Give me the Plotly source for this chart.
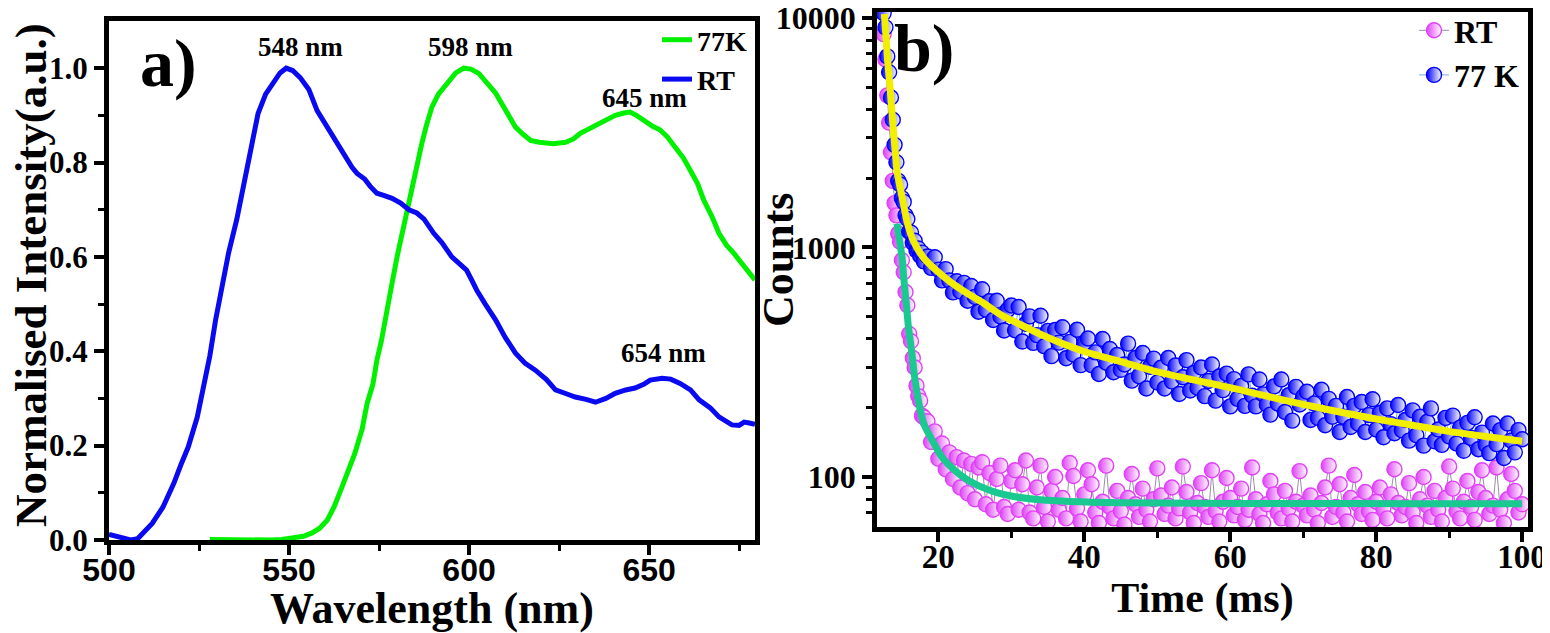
import plotly.graph_objects as go

# ---------------- panel a) data ----------------
WL_RT = [500, 502, 504, 506, 508, 509.5, 512, 515, 518, 520, 522, 524.5, 526.3, 528, 529.6, 531.5, 533.2,
         535.5, 537.3, 539.5, 541.4, 543.5, 545.6, 547.5, 549.2, 551, 553.1, 555.5, 557.8, 559.8, 561.4,
         563.5, 565.6, 567.5, 568.9, 571, 572.5, 574.4, 576.5, 578.6, 581, 583.3, 585.5, 587.5, 590.2,
         592.5, 595.2, 597.5, 599.3, 600.8, 602.1, 604.5, 607.4, 610, 612.9, 615.5, 618.4, 621.5, 624,
         627, 629.5, 632.5, 635.1, 638, 640.6, 643.5, 646.1, 648.5, 650.3, 653.6, 656, 658.6, 661.5,
         663.9, 667, 669.4, 671.5, 673, 675, 676.4, 677.8, 679.4]
INT_RT = [0.012, 0.008, 0.002, 0.0, 0.003, 0.015, 0.035, 0.07, 0.12, 0.16, 0.197, 0.26, 0.324, 0.39, 0.466,
          0.54, 0.608, 0.68, 0.748, 0.83, 0.904, 0.945, 0.968, 0.99, 1.0, 0.995, 0.98, 0.955, 0.91, 0.885,
          0.862, 0.84, 0.811, 0.79, 0.777, 0.765, 0.75, 0.735, 0.73, 0.724, 0.714, 0.70, 0.693, 0.68, 0.65,
          0.63, 0.60, 0.585, 0.572, 0.55, 0.53, 0.50, 0.466, 0.43, 0.396, 0.375, 0.36, 0.34, 0.318, 0.31,
          0.303, 0.298, 0.292, 0.30, 0.311, 0.318, 0.322, 0.33, 0.339, 0.343, 0.341, 0.332, 0.318, 0.297,
          0.28, 0.261, 0.25, 0.244, 0.243, 0.25, 0.248, 0.245]

WL_77K = [528, 535, 545, 548, 551.1, 554, 556.4, 558.5, 560.6, 562.5, 564.7, 566.5, 568.3, 570.3, 571.7,
          573.3, 574.4, 575.6, 576.6, 578.6, 580, 581.4, 582.8, 584.1, 585.5, 586.9, 588.2, 589.7, 591.5,
          593.8, 596.3, 598.5, 600.5, 602.7, 605, 607.4, 608.7, 610.1, 611.8, 612.9, 615, 617.1, 619.5,
          621.2, 623.5, 626.8, 629, 630.9, 633, 635.1, 638, 640.6, 643, 644.7, 646.5, 648.9, 651, 653.1,
          655, 657.2, 659.5, 661.4, 663.5, 665.2, 667.5, 669.4, 671.5, 673.5, 675.5, 677.7, 679.4]
INT_77K = [0.001, 0.0, 0.0, 0.001, 0.004, 0.008, 0.015, 0.025, 0.042, 0.07, 0.112, 0.145, 0.184, 0.235,
           0.29, 0.33, 0.381, 0.42, 0.466, 0.544, 0.6, 0.65, 0.70, 0.742, 0.79, 0.841, 0.88, 0.918, 0.945,
           0.968, 0.99, 1.0, 0.998, 0.989, 0.97, 0.947, 0.93, 0.911, 0.893, 0.875, 0.86, 0.847, 0.843,
           0.841, 0.84, 0.843, 0.85, 0.862, 0.87, 0.879, 0.89, 0.90, 0.905, 0.907, 0.90, 0.886, 0.877,
           0.869, 0.855, 0.833, 0.81, 0.784, 0.755, 0.72, 0.685, 0.65, 0.625, 0.608, 0.588, 0.566, 0.551]

PEAK_LABELS = ["548 nm", "598 nm", "645 nm", "654 nm"]
PEAK_LABEL_X = [553.2, 600.4, 648.8, 654.0]
PEAK_LABEL_Y = [1.045, 1.045, 0.936, 0.396]

# ---------------- panel b) data ----------------
TIME_MS = [12.5, 12.75, 13.0, 13.25, 13.5, 13.75, 14.0, 14.25, 14.5, 14.75, 15.0, 15.25, 15.5, 15.75,
           16.0, 16.25, 16.5, 16.75, 17.0, 17.25, 17.5, 17.75, 18.0,
           18.5, 19.0, 19.5, 20.0, 20.5, 21.0, 21.5, 22.0, 22.5, 23.0, 23.5, 24.0, 24.5, 25.0, 25.5, 26.0,
           26.5, 27.0, 27.5, 28.0, 28.5, 29.0, 29.5, 30.0,
           30.5, 31.0, 31.5, 32.0, 32.5, 33.0, 33.5, 34.0, 34.5, 35.0,
           35.5, 36.0, 36.5, 37.0, 37.5, 38.0, 38.5, 39.0, 39.5, 40.0,
           40.5, 41.0, 41.5, 42.0, 42.5, 43.0, 43.5, 44.0, 44.5, 45.0,
           45.5, 46.0, 46.5, 47.0, 47.5, 48.0, 48.5, 49.0, 49.5, 50.0,
           50.5, 51.0, 51.5, 52.0, 52.5, 53.0, 53.5, 54.0, 54.5, 55.0,
           55.5, 56.0, 56.5, 57.0, 57.5, 58.0, 58.5, 59.0, 59.5, 60.0,
           60.5, 61.0, 61.5, 62.0, 62.5, 63.0, 63.5, 64.0, 64.5, 65.0,
           65.5, 66.0, 66.5, 67.0, 67.5, 68.0, 68.5, 69.0, 69.5, 70.0,
           70.5, 71.0, 71.5, 72.0, 72.5, 73.0, 73.5, 74.0, 74.5, 75.0,
           75.5, 76.0, 76.5, 77.0, 77.5, 78.0, 78.5, 79.0, 79.5, 80.0,
           80.5, 81.0, 81.5, 82.0, 82.5, 83.0, 83.5, 84.0, 84.5, 85.0,
           85.5, 86.0, 86.5, 87.0, 87.5, 88.0, 88.5, 89.0, 89.5, 90.0,
           90.5, 91.0, 91.5, 92.0, 92.5, 93.0, 93.5, 94.0, 94.5, 95.0,
           95.5, 96.0, 96.5, 97.0, 97.5, 98.0, 98.5, 99.0, 99.5, 100.0]

COUNTS_77K = [10500, 9100, 6800, 5800, 4500, 3600, 2800, 2350, 1950, 1880, 1640, 1580, 1380, 1330, 1170,
              1160, 1050, 1070, 970, 990, 920, 950, 870,
              914, 815, 907, 801, 719, 805, 718, 637, 712, 643, 701, 586, 679, 609, 525, 658, 535, 583,
              483, 586, 500, 435, 535, 559,
              436, 550, 389, 465, 501, 384, 415, 504, 371, 433,
              336, 437, 385, 449, 329, 388, 342, 438, 307, 384,
              401, 307, 349, 281, 399, 315, 361, 286, 340, 293,
              309, 381, 263, 330, 275, 347, 243, 302, 328, 258,
              299, 243, 330, 261, 306, 230, 272, 323, 238, 284,
              245, 300, 225, 262, 309, 215, 274, 239, 282, 203,
              267, 219, 249, 204, 280, 226, 203, 266, 229, 207,
              187, 248, 209, 266, 192, 227, 176, 247, 207, 224,
              235, 177, 209, 181, 240, 168, 219, 183, 204, 157,
              183, 223, 165, 204, 171, 212, 157, 186, 218, 161,
              190, 149, 199, 170, 155, 206, 160, 177, 144, 195,
              152, 183, 137, 174, 199, 143, 161, 138, 181, 150,
              185, 140, 164, 130, 172, 148, 182, 132, 156, 138,
              127, 171, 139, 160, 121, 171, 144, 128, 160, 146]

COUNTS_RT = [8500, 6600, 4600, 3500, 2600, 1950, 1560, 1380, 1150, 1060, 880, 780, 640, 560, 420, 390, 330,
             300, 250, 225, 215, 185, 182,
             175, 142, 158, 120, 140, 108, 128, 98, 122, 90, 118, 85, 114, 80, 110, 116, 76, 104, 72, 98,
             112, 74, 69, 96,
             107, 72, 93, 118, 70, 66, 90, 112, 74, 64,
             87, 100, 72, 81, 66, 115, 101, 73, 64, 84,
             107, 93, 70, 63, 78, 112, 74, 66, 87, 71,
             62, 81, 103, 76, 67, 89, 72, 64, 80, 109,
             83, 69, 75, 90, 66, 73, 111, 86, 70, 63,
             77, 94, 74, 67, 107, 71, 64, 78, 99, 81,
             68, 74, 89, 65, 72, 110, 80, 69, 63, 76,
             96, 84, 70, 66, 87, 73, 64, 78, 106, 75,
             68, 83, 72, 63, 77, 90, 112, 67, 74, 93,
             70, 64, 81, 102, 76, 69, 86, 71, 65, 78,
             90, 73, 66, 84, 108, 77, 68, 74, 94, 70,
             63, 80, 100, 75, 67, 87, 72, 64, 81, 111,
             89, 71, 66, 78, 96, 74, 65, 86, 107, 81,
             69, 75, 110, 72, 63, 80, 103, 87, 70, 76]

FIT_77K_T = [12.6, 12.8, 13.05, 13.4, 13.75, 14.1, 14.35, 14.8, 15.25, 15.7, 16.6, 18.0, 19.8, 22.1, 24,
             26, 28.5, 30, 35, 40, 45, 50, 55, 60, 65, 70, 75, 80, 85, 90, 95, 100]
FIT_77K = [10400, 8500, 6500, 4900, 3500, 2600, 2130, 1800, 1530, 1300, 1065, 900, 790, 690, 630, 577,
           510, 482, 405, 352, 318, 287, 265, 245, 225, 207, 192, 179, 168, 158, 150, 143]

FIT_RT_T = [14.34, 14.7, 15.03, 15.25, 15.6, 15.9, 16.4, 16.7, 17.3, 18.0, 19.4, 20.5, 22.2,
            24, 25.7, 28, 30.5, 34, 38, 45, 55, 70, 85, 100]
FIT_RT = [1270, 1060, 900, 740, 570, 450, 340, 280, 212, 171, 140, 122, 107, 97, 91, 85.5,
          82, 79.5, 78.2, 77.2, 76.8, 76.6, 76.5, 76.5]

LOG_TICKS = [100, 1000, 10000]
LOG_MINOR = [m * d for d in (10, 100, 1000) for m in range(2, 10)]

SERIF = "Liberation Serif"
SANS = "Liberation Sans"
BLUE = "#0A0AF0"
GREEN = "#00F000"
MAGENTA = "#E040F8"
BLUE_PT = "#0000FF"

fig = go.Figure()

# ---- panel a ----
fig.add_trace(go.Scatter(x=WL_77K, y=INT_77K, mode="lines", name="77K",
                         line=dict(color=GREEN, width=5), xaxis="x", yaxis="y", legend="legend"))
fig.add_trace(go.Scatter(x=WL_RT, y=INT_RT, mode="lines", name="RT",
                         line=dict(color=BLUE, width=5), xaxis="x", yaxis="y", legend="legend"))


# ---- panel b ----
def half_marker(color, size):
    return dict(symbol="circle", size=size, color=color, line=dict(color=color, width=1.4),
                gradient=dict(type="horizontal", color="white"))


fig.add_trace(go.Scatter(x=TIME_MS, y=COUNTS_RT, mode="lines+markers", name="RT",
                         line=dict(color="#9C8CAC", width=1), marker=half_marker(MAGENTA, 15),
                         xaxis="x2", yaxis="y2", legend="legend2"))
fig.add_trace(go.Scatter(x=FIT_RT_T, y=FIT_RT, mode="lines", showlegend=False,
                         line=dict(color="#19C98F", width=7, shape="spline", smoothing=0.8),
                         xaxis="x2", yaxis="y2"))
fig.add_trace(go.Scatter(x=TIME_MS, y=COUNTS_77K, mode="lines+markers", name="77 K",
                         line=dict(color="#7BAFD8", width=1), marker=half_marker(BLUE_PT, 15),
                         xaxis="x2", yaxis="y2", legend="legend2"))
fig.add_trace(go.Scatter(x=FIT_77K_T, y=FIT_77K, mode="lines", showlegend=False,
                         line=dict(color="#F2EE00", width=7, shape="spline", smoothing=0.8),
                         xaxis="x2", yaxis="y2"))

axis_common = dict(showline=True, linecolor="black", linewidth=5, mirror=True, automargin=False,
                   showgrid=False, zeroline=False, ticks="outside", tickcolor="black",
                   ticklen=10, tickwidth=4)


def minor_ticks(vals):
    return dict(tickvals=vals, ticks="outside", ticklen=6, tickwidth=3, tickcolor="black")


def bold(family, size):
    return dict(family=family, size=size, color="black", weight="bold")


annotations = []
for txt, ax_, ay_ in zip(PEAK_LABELS, PEAK_LABEL_X, PEAK_LABEL_Y):
    annotations.append(dict(x=ax_, y=ay_, xref="x", yref="y", text=txt, showarrow=False,
                            font=bold(SERIF, 27)))
annotations.append(dict(x=516.4, y=1.011, xref="x", yref="y", text="a)", showarrow=False,
                        font=bold(SERIF, 68)))
annotations.append(dict(x=0.594, y=1.0, xref="paper", yref="paper", xanchor="center", yanchor="top",
                        text="b)", showarrow=False, font=bold(SERIF, 68)))
annotations.append(dict(x=0.4994, y=0.5968, xref="paper", yref="paper", xanchor="center",
                        yanchor="middle", text="Counts", textangle=-90, showarrow=False,
                        font=bold(SERIF, 44)))
annotations.append(dict(x=0.0149, y=0.5728, xref="paper", yref="paper", xanchor="center",
                        yanchor="middle", text="Normalised Intensity(a.u.)", textangle=-90,
                        showarrow=False, font=bold(SERIF, 45)))

W, H = 1542, 625
fig.update_layout(
    width=W, height=H,
    margin=dict(l=0, r=0, t=0, b=0, autoexpand=False),
    paper_bgcolor="white", plot_bgcolor="white",
    xaxis=dict(domain=[0.0655, 0.4844], range=[500, 679.4], tickvals=[500, 550, 600, 650],
               tickfont=bold(SANS, 32), ticklabelstandoff=-12,
               minor=minor_ticks([525, 575, 625, 675]),
               title=dict(text="Wavelength (nm)", standoff=8, font=bold(SERIF, 44)),
               anchor="y", **axis_common),
    yaxis=dict(domain=[0.1488, 0.9792], range=[0, 1.1], tickvals=[0, 0.2, 0.4, 0.6, 0.8, 1.0],
               ticktext=["0.0", "0.2", "0.4", "0.6", "0.8", "1.0"],
               tickfont=bold(SERIF, 31),
               minor=minor_ticks([0.1, 0.3, 0.5, 0.7, 0.9]),
               anchor="x", **axis_common),
    xaxis2=dict(domain=[0.5636, 0.9857], range=[11.6, 100.8], tickvals=[20, 40, 60, 80, 100],
                tickfont=bold(SERIF, 33), ticklabelstandoff=-14,
                minor=minor_ticks([30, 50, 70, 90]),
                title=dict(text="Time (ms)", standoff=0, font=bold(SERIF, 42)),
                anchor="y2", **axis_common),
    yaxis2=dict(domain=[0.1696, 0.9936], type="log", range=[1.782, 4.026], tickvals=LOG_TICKS,
                ticktext=[str(v) for v in LOG_TICKS], ticklabeloverflow="allow",
                tickfont=bold(SERIF, 32),
                minor=minor_ticks(LOG_MINOR),
                anchor="x2", **axis_common),
    legend=dict(x=0.4209, y=0.9888, xanchor="left", yanchor="top", bgcolor="rgba(0,0,0,0)",
                font=bold(SERIF, 28), tracegroupgap=0, itemwidth=30),
    legend2=dict(x=0.9118, y=1.008, xanchor="left", yanchor="top", bgcolor="rgba(0,0,0,0)",
                 font=bold(SERIF, 32), tracegroupgap=0, itemwidth=30),
    annotations=annotations,
)

fig.write_html("out.html")
